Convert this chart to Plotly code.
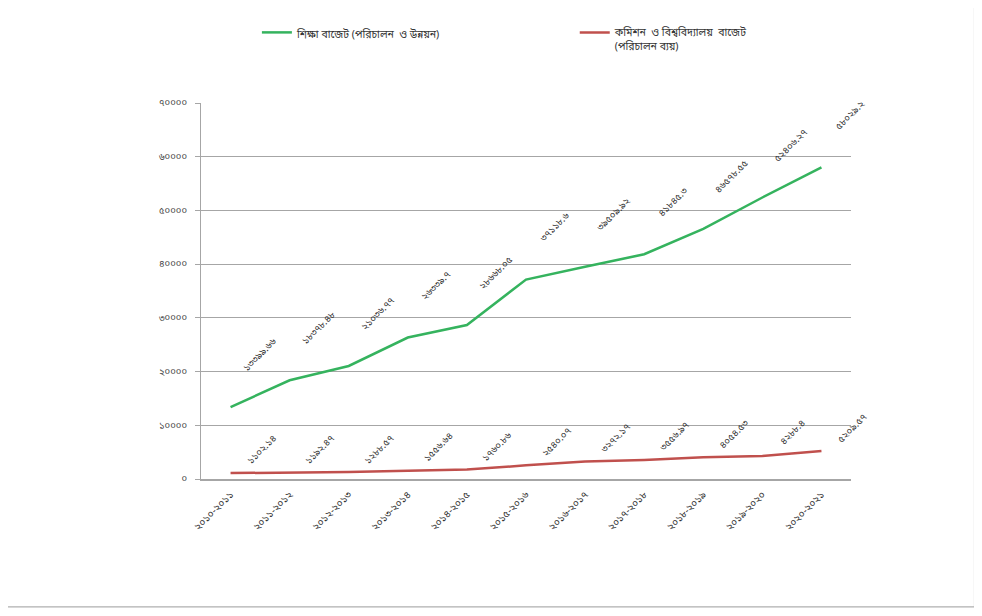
import plotly.graph_objects as go

years = ["২০১০-২০১১", "২০১১-২০১২", "২০১২-২০১৩", "২০১৩-২০১৪", "২০১৪-২০১৫",
         "২০১৫-২০১৬", "২০১৬-২০১৭", "২০১৭-২০১৮", "২০১৮-২০১৯", "২০১৯-২০২০", "২০২০-২০২১"]

edu_budget = [13399.66, 18378.48, 21036.77, 26339.7, 28668.05,
              37118.6, 39509.92, 41845.3, 46578.55, 52406.27, 58029.2]
edu_labels = ["১৩৩৯৯.৬৬", "১৮৩৭৮.৪৮", "২১০৩৬.৭৭", "২৬৩৩৯.৭", "২৮৬৬৮.০৫",
              "৩৭১১৮.৬", "৩৯৫০৯.৯২", "৪১৮৪৫.৩", "৪৬৫৭৮.৫৫", "৫২৪০৬.২৭", "৫৮০২৯.২"]

ugc_budget = [1102.14, 1192.47, 1288.57, 1556.64, 1760.86,
              2540.07, 3272.17, 3556.97, 4054.53, 4288.4, 5209.57]
ugc_labels = ["১১০২.১৪", "১১৯২.৪৭", "১২৮৮.৫৭", "১৫৫৬.৬৪", "১৭৬০.৮৬",
              "২৫৪০.০৭", "৩২৭২.১৭", "৩৫৫৬.৯৭", "৪০৫৪.৫৩", "৪২৮৮.৪", "৫২০৯.৫৭"]

y_ticks = [0, 10000, 20000, 30000, 40000, 50000, 60000, 70000]
y_tick_text = ["০", "১০০০০", "২০০০০", "৩০০০০", "৪০০০০", "৫০০০০", "৬০০০০", "৭০০০০"]

name_edu = "শিক্ষা বাজেট (পরিচালন  ও উন্নয়ন)"
name_ugc = "কমিশন  ও বিশ্ববিদ্যালয়  বাজেট<br>(পরিচালন ব্যয়)"

FONT = "Noto Sans Bengali, Noto Sans, DejaVu Sans, sans-serif"
GREEN = "#35b35e"
RED = "#c0504d"

fig = go.Figure()
fig.add_trace(go.Scatter(x=years, y=edu_budget, mode="lines", name=name_edu,
                         line=dict(color=GREEN, width=2.5), legend="legend"))
fig.add_trace(go.Scatter(x=years, y=ugc_budget, mode="lines", name=name_ugc,
                         line=dict(color=RED, width=2.5), legend="legend2"))

for xv, yv, t in zip(years, edu_budget, edu_labels):
    fig.add_annotation(x=xv, y=yv, text=t, showarrow=False, textangle=-45,
                       xshift=29, yshift=52, font=dict(size=9.5, color="#333", family=FONT))
for xv, yv, t in zip(years, ugc_budget, ugc_labels):
    fig.add_annotation(x=xv, y=yv, text=t, showarrow=False, textangle=-45,
                       xshift=31, yshift=23, font=dict(size=9.5, color="#333", family=FONT))

fig.add_shape(type="rect", xref="paper", yref="paper",
              x0=-0.4, x1=1.19, y0=-0.34, y1=1.4,
              line=dict(color="#b0b0b0", width=1.2), layer="above")

leg_font = dict(size=10.5, color="#333", family=FONT)
fig.update_layout(
    width=982, height=616,
    margin=dict(l=193, r=139, t=94, b=145),
    paper_bgcolor="white", plot_bgcolor="white",
    font=dict(family=FONT, size=9, color="#444"),
    showlegend=True,
    legend=dict(x=0.086, xanchor="left", y=1.22, yanchor="top", valign="top",
                bgcolor="rgba(0,0,0,0)", font=leg_font),
    legend2=dict(x=0.575, xanchor="left", y=1.22, yanchor="top", valign="top",
                 bgcolor="rgba(0,0,0,0)", font=leg_font),
    xaxis=dict(type="category", tickangle=-45, showgrid=False, showline=True,
               linecolor="#a6a6a6", linewidth=1.5, ticks="", range=[-0.5, 10.5],
               ticklabelstandoff=4, tickfont=dict(size=10, color="#333")),
    yaxis=dict(range=[0, 70000], tickvals=y_ticks, ticktext=y_tick_text,
               showgrid=True, gridcolor="#a6a6a6", gridwidth=1, zeroline=False,
               showline=True, linecolor="#a6a6a6", linewidth=1, ticks="outside",
               ticklen=5, tickcolor="#a6a6a6", ticklabelstandoff=6,
               tickfont=dict(size=9.5, color="#444")),
)

fig.write_html("out.html")
